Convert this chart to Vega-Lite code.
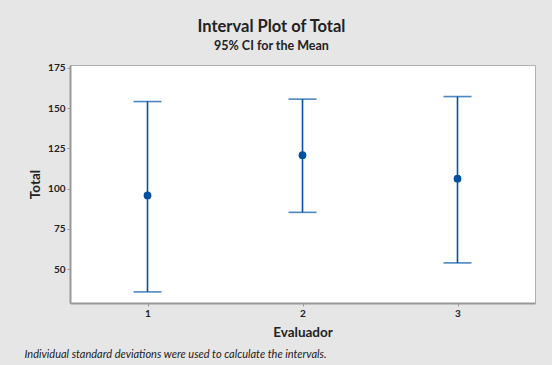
{
  "$schema": "https://vega.github.io/schema/vega-lite/v6.json",
  "width": 465,
  "height": 238,
  "autosize": {"type": "none"},
  "padding": {"left": 70, "top": 65, "right": 17, "bottom": 62},
  "background": "#e6e6e6",
  "title": {
    "text": "Interval Plot of Total",
    "subtitle": "95% CI for the Mean",
    "anchor": "middle",
    "frame": "group",
    "dx": -31,
    "offset": 10,
    "font": "Lato",
    "fontSize": 16.5,
    "fontWeight": "bold",
    "color": "#222222",
    "subtitleFont": "Lato",
    "subtitleFontSize": 12.5,
    "subtitleFontWeight": "bold",
    "subtitleColor": "#222222",
    "subtitlePadding": 5
  },
  "config": {
    "view": {"fill": "white", "stroke": "#b0b0b0", "strokeWidth": 1},
    "axis": {
      "labelFont": "Lato",
      "labelFontSize": 10,
      "labelFontWeight": "bold",
      "labelColor": "#222222",
      "titleFont": "Lato",
      "titleFontSize": 13.5,
      "titleFontWeight": "bold",
      "titleColor": "#222222",
      "domainColor": "#999999",
      "domainWidth": 2,
      "tickColor": "#999999",
      "tickSize": 3,
      "grid": false
    }
  },
  "data": {
    "values": [
      {"Evaluador": 1, "mean": 95.8, "lower": 35.9, "upper": 154.1},
      {"Evaluador": 2, "mean": 120.8, "lower": 85.3, "upper": 155.6},
      {"Evaluador": 3, "mean": 106.2, "lower": 53.9, "upper": 157.2}
    ]
  },
  "resolve": {"axis": {"x": "independent"}},
  "layer": [
    {
      "mark": {"type": "rule", "color": "#0054a6", "strokeWidth": 1.6},
      "encoding": {
        "x": {
          "field": "Evaluador",
          "type": "quantitative",
          "scale": {"domain": [0.5, 3.5], "nice": false, "zero": false},
          "axis": {
            "orient": "bottom",
            "values": [1, 2, 3],
            "format": "d",
            "title": "Evaluador",
            "labelPadding": 2,
            "titlePadding": 7
          }
        },
        "y": {
          "field": "lower",
          "type": "quantitative",
          "scale": {"domain": [29, 176.8], "nice": false, "zero": false},
          "axis": {
            "values": [50, 75, 100, 125, 150, 175],
            "title": "Total",
            "labelPadding": 2,
            "titlePadding": 5
          }
        },
        "y2": {"field": "upper"}
      }
    },
    {
      "mark": {"type": "tick", "color": "#0054a6", "orient": "horizontal", "size": 28, "thickness": 1.6},
      "encoding": {
        "x": {"field": "Evaluador", "type": "quantitative", "axis": null},
        "y": {"field": "upper", "type": "quantitative"}
      }
    },
    {
      "mark": {"type": "tick", "color": "#0054a6", "orient": "horizontal", "size": 28, "thickness": 1.6},
      "encoding": {
        "x": {"field": "Evaluador", "type": "quantitative", "axis": null},
        "y": {"field": "lower", "type": "quantitative"}
      }
    },
    {
      "mark": {"type": "point", "filled": true, "color": "#0050a0", "size": 60, "opacity": 1},
      "encoding": {
        "x": {
          "field": "Evaluador",
          "type": "quantitative",
          "axis": {
            "orient": "bottom",
            "domain": false,
            "ticks": false,
            "labels": false,
            "title": "Individual standard deviations were used to calculate the intervals.",
            "titleFontStyle": "italic",
            "titleFontWeight": "normal",
            "titleFontSize": 11,
            "titleAnchor": "start",
            "titleAlign": "left",
            "titleBaseline": "alphabetic",
            "titleX": -46,
            "titleY": 54
          }
        },
        "y": {"field": "mean", "type": "quantitative"}
      }
    }
  ]
}
